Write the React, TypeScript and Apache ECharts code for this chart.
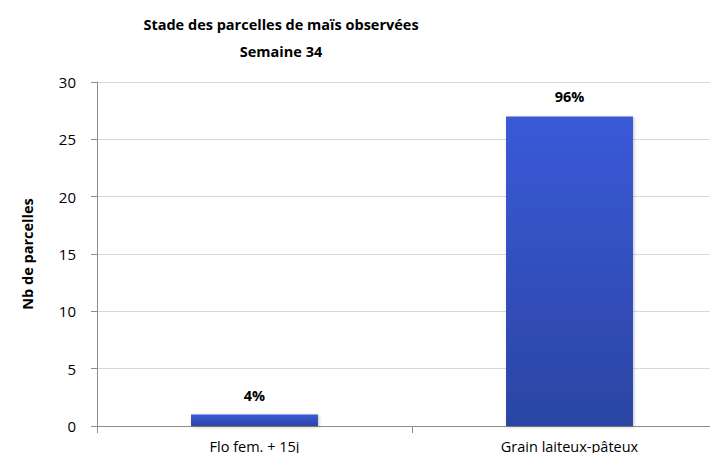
import React, { useEffect, useRef } from "react";
import * as echarts from "echarts";

const categories = ["Flo fem. + 15j", "Grain laiteux-pâteux"];
const values = [1, 27];
const percentLabels = ["4%", "96%"];
const titleLines = ["Stade des parcelles de maïs observées", "Semaine 34"];
const yAxisName = "Nb de parcelles";

const FONT = "'Open Sans', sans-serif";

export default function App() {
  const ref = useRef<HTMLDivElement>(null);
  useEffect(() => {
    if (!ref.current) return;
    const chart = echarts.init(ref.current, null, { renderer: "svg" });
    chart.setOption({
      animation: false,
      backgroundColor: "#ffffff",
      title: {
        text: titleLines.join("\n"),
        left: 276,
        textAlign: "center",
        top: 6,
        textStyle: {
          fontFamily: FONT,
          fontSize: 14.5,
          fontWeight: "bold",
          color: "#000",
          lineHeight: 27,
        },
      },
      grid: { left: 97, right: 3, top: 82, bottom: 35, containLabel: false },
      xAxis: {
        type: "category",
        data: categories,
        axisLine: { show: true, lineStyle: { color: "#8c8c8c", width: 1 } },
        axisTick: { show: true, alignWithLabel: false, length: 7, lineStyle: { color: "#8c8c8c" } },
        axisLabel: { fontFamily: FONT, fontSize: 14.5, color: "#000", margin: 13 },
      },
      yAxis: {
        type: "value",
        min: 0,
        max: 30,
        interval: 5,
        name: yAxisName,
        nameLocation: "middle",
        nameGap: 62,
        nameTextStyle: { fontFamily: FONT, fontSize: 14.5, fontWeight: "bold", color: "#000" },
        axisLine: { show: true, lineStyle: { color: "#8c8c8c", width: 1 } },
        axisTick: { show: true, inside: false, length: 6, lineStyle: { color: "#8c8c8c" } },
        axisLabel: { fontFamily: FONT, fontSize: 15, color: "#000", margin: 21 },
        splitLine: { show: true, lineStyle: { color: "#d9d9d9", width: 1 } },
      },
      series: [
        {
          type: "bar",
          data: values,
          barWidth: "40.3%",
          itemStyle: {
            color: new echarts.graphic.LinearGradient(0, 0, 0, 1, [
              { offset: 0, color: "#3a5ad8" },
              { offset: 1, color: "#2b45a3" },
            ]),
            shadowColor: "rgba(0,0,0,0.25)",
            shadowBlur: 3,
            shadowOffsetX: 1,
            shadowOffsetY: 1,
          },
          label: {
            show: true,
            position: "top",
            distance: 12,
            formatter: (p: any) => percentLabels[p.dataIndex],
            fontFamily: FONT,
            fontSize: 14.5,
            fontWeight: "bold",
            color: "#000",
          },
        },
      ],
    });
    return () => chart.dispose();
  }, []);
  return (
    <div style={{ width: 718, height: 461, margin: -8, overflow: "hidden", background: "#fff" }}>
      <div ref={ref} style={{ width: 730, height: 461 }} />
    </div>
  );
}
